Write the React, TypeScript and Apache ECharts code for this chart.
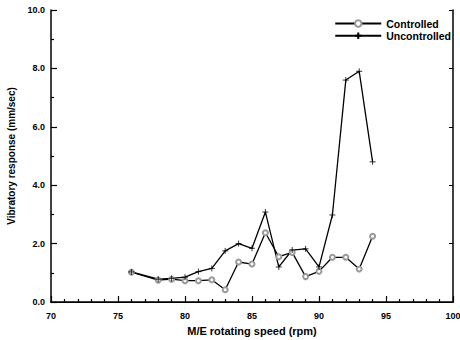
import React, { useEffect, useRef } from "react";
import * as echarts from "echarts";

const speeds = [76, 78, 79, 80, 81, 82, 83, 84, 85, 86, 87, 88, 89, 90, 91, 92, 93, 94];
const controlled = [1.02, 0.75, 0.78, 0.73, 0.73, 0.76, 0.42, 1.37, 1.3, 2.37, 1.55, 1.7, 0.87, 1.05, 1.53, 1.53, 1.13, 2.25];
const uncontrolled = [1.03, 0.78, 0.81, 0.85, 1.04, 1.15, 1.75, 2.0, 1.84, 3.08, 1.2, 1.78, 1.82, 1.2, 2.98, 7.6, 7.9, 4.8];
const xTicks = [70, 75, 80, 85, 90, 95, 100];
const yTicks = [0, 2, 4, 6, 8, 10];

const plus = "path://M0,5L10,5M5,0L5,10";

export default function App() {
  const ref = useRef<HTMLDivElement>(null);
  useEffect(() => {
    const chart = echarts.init(ref.current!, undefined, { renderer: "svg" });
    const font = "Arial";
    chart.setOption({
      animation: false,
      backgroundColor: "#fff",
      grid: { left: 51, right: 7, top: 10, bottom: 38, show: false, containLabel: false, outerBoundsMode: "none" },
      legend: {
        right: 4,
        top: 13,
        orient: "vertical",
        itemGap: 1,
        itemWidth: 46,
        itemHeight: 8,
        textStyle: { fontFamily: font, fontWeight: "bold", fontSize: 10.5, color: "#000" },
        data: ["Controlled", "Uncontrolled"],
      },
      xAxis: [
        {
          type: "value",
          min: xTicks[0],
          max: xTicks[xTicks.length - 1],
          interval: 5,
          name: "M/E rotating speed (rpm)",
          nameLocation: "middle",
          nameGap: 23,
          nameTextStyle: { fontFamily: font, fontWeight: "bold", fontSize: 11, color: "#000" },
          axisLine: { lineStyle: { color: "#000", width: 1.5 } },
          axisTick: { inside: true, length: 6, lineStyle: { color: "#000", width: 1.2 } },
          minorTick: { show: true, splitNumber: 5, length: 3, lineStyle: { color: "#000", width: 1.2 } },
          axisLabel: { fontFamily: font, fontWeight: "bold", fontSize: 9, color: "#000", margin: 9 },
          splitLine: { show: false },
        },
        {
          type: "value",
          position: "top",
          min: xTicks[0],
          max: xTicks[xTicks.length - 1],
          interval: 5,
          axisLine: { show: true, lineStyle: { color: "#000", width: 1.2 } },
          axisTick: { show: false },
          axisLabel: { show: false },
          splitLine: { show: false },
        },
      ],
      yAxis: [
        {
          type: "value",
          min: yTicks[0],
          max: yTicks[yTicks.length - 1],
          interval: 2,
          name: "Vibratory response (mm/sec)",
          nameLocation: "middle",
          nameGap: 35,
          nameTextStyle: { fontFamily: font, fontWeight: "bold", fontSize: 10, color: "#000" },
          axisLine: { show: true, lineStyle: { color: "#000", width: 1.5 } },
          axisTick: { inside: true, length: 6, lineStyle: { color: "#000", width: 1.2 } },
          minorTick: { show: true, splitNumber: 2, length: 3, lineStyle: { color: "#000", width: 1.2 } },
          axisLabel: { fontFamily: font, fontWeight: "bold", fontSize: 9, color: "#000", margin: 6, formatter: (v: number) => v.toFixed(1) },
          splitLine: { show: false },
        },
        {
          type: "value",
          position: "right",
          min: yTicks[0],
          max: yTicks[yTicks.length - 1],
          interval: 2,
          axisLine: { show: true, lineStyle: { color: "#000", width: 1.5 } },
          axisTick: { inside: true, length: 4, lineStyle: { color: "#000" } },
          axisLabel: { show: false },
          splitLine: { show: false },
        },
      ],
      series: [
        {
          name: "Controlled",
          type: "line",
          data: speeds.map((s, i) => [s, controlled[i]]),
          symbol: "emptyCircle",
          symbolSize: 5,
          itemStyle: { color: "#999", borderWidth: 0.6 },
          lineStyle: { color: "#000", width: 1.3 },
        },
        {
          name: "Uncontrolled",
          type: "line",
          data: speeds.map((s, i) => [s, uncontrolled[i]]),
          symbol: plus,
          symbolSize: 6,
          itemStyle: { color: "none", borderColor: "#000", borderWidth: 0.8 },
          lineStyle: { color: "#000", width: 1.3 },
        },
      ],
    });
    return () => chart.dispose();
  }, []);
  return <div ref={ref} style={{ width: 460, height: 340, position: "absolute", left: 0, top: 0 }} />;
}
